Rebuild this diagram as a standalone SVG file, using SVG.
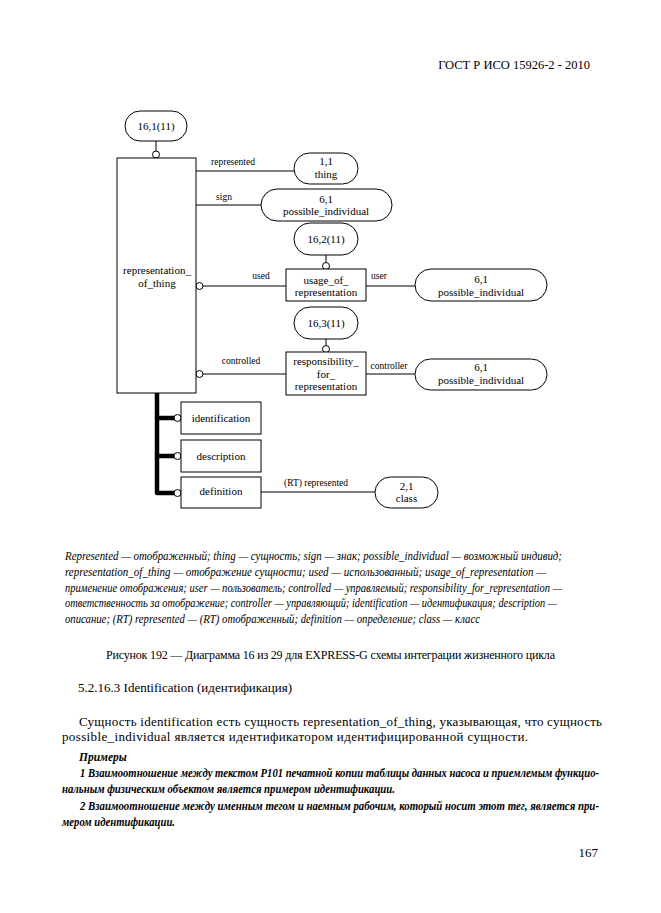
<svg xmlns="http://www.w3.org/2000/svg" width="661" height="913" viewBox="0 0 661 913">
<style>
.b{fill:#fff;stroke:#000;stroke-width:1}
.t{font-family:"Liberation Serif","Times New Roman",serif;font-size:11px;text-anchor:middle;fill:#000}
.l{font-family:"Liberation Serif","Times New Roman",serif;font-size:9.5px;text-anchor:middle;fill:#000}
.c{fill:none;stroke:#000;stroke-width:1}
.o{fill:#fff;stroke:#000;stroke-width:1}
.k{fill:none;stroke:#000;stroke-width:4.5}
.p{font-family:"Liberation Serif","Times New Roman",serif;fill:#000}
.i{font-style:italic;font-size:11.5px}
.bi{font-style:italic;font-weight:bold;font-size:11.5px}
</style>
<rect width="661" height="913" fill="#fff"/>
<text class="p" x="590" y="69" font-size="12.5" text-anchor="end">ГОСТ Р ИСО 15926-2 - 2010</text>

<g id="connectors">
<line class="c" x1="156" y1="141" x2="156" y2="151"/>
<circle class="o" cx="156" cy="154.5" r="3.5"/>
<line class="c" x1="196" y1="171" x2="294" y2="171"/>
<text class="l" x="233" y="165">represented</text>
<line class="c" x1="196" y1="205" x2="261" y2="205"/>
<text class="l" x="224" y="200">sign</text>
<line class="c" x1="326" y1="255" x2="326" y2="262.5"/>
<circle class="o" cx="326" cy="266" r="3.5"/>
<line class="c" x1="203" y1="286" x2="286" y2="286"/>
<circle class="o" cx="199.5" cy="286" r="3.5"/>
<text class="l" x="261" y="279">used</text>
<line class="c" x1="366" y1="286" x2="415" y2="286"/>
<text class="l" x="379" y="279">user</text>
<line class="c" x1="326" y1="339" x2="326" y2="345.5"/>
<circle class="o" cx="326" cy="349" r="3.5"/>
<line class="c" x1="203" y1="374" x2="286" y2="374"/>
<circle class="o" cx="199.5" cy="374" r="3.5"/>
<text class="l" x="241" y="364">controlled</text>
<line class="c" x1="366" y1="374" x2="415" y2="374"/>
<text class="l" x="389" y="369">controller</text>
<path class="k" d="M157,393 V493 H175 M157,418 H175 M157,456 H175" stroke-linejoin="round"/>
<circle class="o" cx="177.5" cy="418" r="3.5"/>
<circle class="o" cx="177.5" cy="456" r="3.5"/>
<circle class="o" cx="177.5" cy="493" r="3.5"/>
<line class="c" x1="261" y1="492" x2="375" y2="492"/>
<text class="l" x="316" y="486">(RT) represented</text>
</g>

<g id="n_16_1"><rect class="b" x="125" y="111" width="62" height="30" rx="15"/><text class="t" x="156" y="130">16,1(11)</text></g>
<g id="representation_of_thing"><rect class="b" x="117" y="158" width="79" height="235"/><text class="t" x="157" y="274">representation_</text><text class="t" x="157" y="287">of_thing</text></g>
<g id="thing"><rect class="b" x="294" y="153" width="64" height="31" rx="15.5"/><text class="t" x="326" y="165">1,1</text><text class="t" x="326" y="178">thing</text></g>
<g id="possible_individual_1"><rect class="b" x="261" y="189" width="131" height="32" rx="16"/><text class="t" x="326" y="203">6,1</text><text class="t" x="326" y="215">possible_individual</text></g>
<g id="n_16_2"><rect class="b" x="294" y="223" width="64" height="32" rx="16"/><text class="t" x="326" y="243">16,2(11)</text></g>
<g id="usage_of_representation"><rect class="b" x="286" y="269" width="80" height="32"/><text class="t" x="326" y="283.5">usage_of_</text><text class="t" x="326" y="296">representation</text></g>
<g id="possible_individual_2"><rect class="b" x="415" y="269" width="132" height="32" rx="16"/><text class="t" x="481" y="283">6,1</text><text class="t" x="481" y="296">possible_individual</text></g>
<g id="n_16_3"><rect class="b" x="294" y="307" width="64" height="32" rx="16"/><text class="t" x="326" y="327">16,3(11)</text></g>
<g id="responsibility_for_representation"><rect class="b" x="286" y="352" width="80" height="43"/><text class="t" x="326" y="365">responsibility_</text><text class="t" x="326" y="377.5">for_</text><text class="t" x="326" y="390">representation</text></g>
<g id="possible_individual_3"><rect class="b" x="415" y="359" width="132" height="31" rx="15.5"/><text class="t" x="481" y="371">6,1</text><text class="t" x="481" y="384">possible_individual</text></g>
<g id="identification"><rect class="b" x="181" y="402" width="80" height="32"/><text class="t" x="221" y="422">identification</text></g>
<g id="description"><rect class="b" x="181" y="440" width="80" height="32"/><text class="t" x="221" y="460">description</text></g>
<g id="definition"><rect class="b" x="181" y="477" width="80" height="31"/><text class="t" x="221" y="495">definition</text></g>
<g id="class"><rect class="b" x="375" y="477" width="63" height="31" rx="15.5"/><text class="t" x="406.5" y="489.5">2,1</text><text class="t" x="406.5" y="502">class</text></g>

<g id="legend">
<text class="p i" x="65" y="560" textLength="497" lengthAdjust="spacingAndGlyphs">Represented — отображенный; thing — сущность; sign — знак; possible_individual — возможный индивид;</text>
<text class="p i" x="65" y="576" textLength="481" lengthAdjust="spacingAndGlyphs">representation_of_thing — отображение сущности; used — использованный; usage_of_representation —</text>
<text class="p i" x="65" y="592" textLength="497" lengthAdjust="spacingAndGlyphs">применение отображения; user — пользователь; controlled — управляемый; responsibility_for_representation —</text>
<text class="p i" x="65" y="607" textLength="492" lengthAdjust="spacingAndGlyphs">ответственность за отображение; controller — управляющий; identification — идентификация; description —</text>
<text class="p i" x="65" y="623" textLength="415" lengthAdjust="spacingAndGlyphs">описание; (RT) represented — (RT) отображенный; definition — определение; class — класс</text>
</g>
<text class="p" x="106" y="659" font-size="12" textLength="449">Рисунок 192 — Диаграмма 16 из 29 для EXPRESS-G схемы интеграции жизненного цикла</text>
<text class="p" x="78" y="692" font-size="13" textLength="214">5.2.16.3 Identification (идентификация)</text>
<text class="p" x="79" y="726" font-size="13" textLength="523">Сущность identification есть сущность representation_of_thing, указывающая, что сущность</text>
<text class="p" x="62" y="741" font-size="13" textLength="466">possible_individual является идентификатором идентифицированной сущности.</text>
<text class="p bi" x="79" y="761">Примеры</text>
<text class="p bi" x="80" y="777" textLength="519" lengthAdjust="spacingAndGlyphs">1 Взаимоотношение между текстом P101 печатной копии таблицы данных насоса и приемлемым функцио-</text>
<text class="p bi" x="62" y="793" textLength="333" lengthAdjust="spacingAndGlyphs">нальным физическим объектом является примером идентификации.</text>
<text class="p bi" x="80" y="810" textLength="519" lengthAdjust="spacingAndGlyphs">2 Взаимоотношение между именным тегом и наемным рабочим, который носит этот тег, является при-</text>
<text class="p bi" x="62" y="826" textLength="113" lengthAdjust="spacingAndGlyphs">мером идентификации.</text>
<text class="p" x="598" y="857" font-size="13" text-anchor="end">167</text>
</svg>
